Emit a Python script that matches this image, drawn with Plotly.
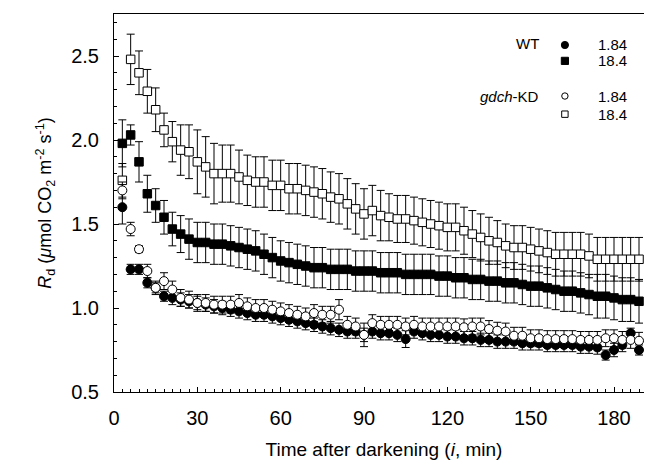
import plotly.graph_objects as go

# ---------------- data ----------------
time_min = [3, 6, 9, 12, 15, 18, 21, 24, 27, 30, 33, 36, 39, 42, 45, 48, 51, 54, 57, 60,
            63, 66, 69, 72, 75, 78, 81, 84, 87, 90, 93, 96, 99, 102, 105, 108, 111, 114, 117, 120,
            123, 126, 129, 132, 135, 138, 141, 144, 147, 150, 153, 156, 159, 162, 165, 168, 171, 174, 177, 180,
            183, 186, 189]

wt_184 = [1.60, 1.23, 1.23, 1.15, 1.12, 1.07, 1.06, 1.05, 1.04, 1.03, 1.02, 1.01, 1.00, 0.99, 0.98, 0.97, 0.96, 0.96, 0.95, 0.94,
          0.93, 0.92, 0.91, 0.90, 0.89, 0.88, 0.87, 0.86, 0.86, 0.84, 0.86, 0.85, 0.85, 0.84, 0.815, 0.86, 0.85, 0.84, 0.84, 0.83,
          0.83, 0.82, 0.82, 0.81, 0.81, 0.80, 0.80, 0.80, 0.79, 0.79, 0.79, 0.78, 0.78, 0.78, 0.78, 0.77, 0.77, 0.765, 0.72, 0.75,
          0.78, 0.85, 0.75]
wt_184_err = [0.10, 0.03, 0.03, 0.03, 0.03, 0.03, 0.04, 0.04, 0.04, 0.04, 0.04, 0.04, 0.04, 0.04, 0.04, 0.04, 0.04, 0.04, 0.04, 0.04,
              0.04, 0.04, 0.04, 0.04, 0.04, 0.04, 0.04, 0.04, 0.04, 0.04, 0.04, 0.04, 0.04, 0.04, 0.05, 0.04, 0.04, 0.04, 0.04, 0.04,
              0.04, 0.04, 0.04, 0.04, 0.04, 0.04, 0.04, 0.04, 0.04, 0.04, 0.04, 0.04, 0.04, 0.04, 0.04, 0.04, 0.04, 0.04, 0.03, 0.04,
              0.04, 0.03, 0.03]

wt_184_18 = [1.98, 2.03, 1.87, 1.68, 1.61, 1.54, 1.47, 1.44, 1.41, 1.39, 1.39, 1.38, 1.38, 1.37, 1.36, 1.35, 1.34, 1.32, 1.30, 1.28,
             1.27, 1.26, 1.25, 1.24, 1.24, 1.23, 1.23, 1.23, 1.22, 1.22, 1.22, 1.21, 1.21, 1.21, 1.20, 1.20, 1.20, 1.20, 1.19, 1.19,
             1.18, 1.18, 1.17, 1.17, 1.16, 1.16, 1.15, 1.15, 1.14, 1.13, 1.13, 1.12, 1.11, 1.10, 1.10, 1.09, 1.08, 1.07, 1.07, 1.06,
             1.05, 1.05, 1.04]
wt_18_err = [0.14, 0.06, 0.12, 0.11, 0.10, 0.10, 0.10, 0.11, 0.12, 0.12, 0.12, 0.12, 0.12, 0.12, 0.12, 0.12, 0.12, 0.12, 0.12, 0.12,
             0.12, 0.12, 0.12, 0.12, 0.12, 0.12, 0.12, 0.12, 0.12, 0.12, 0.12, 0.12, 0.12, 0.12, 0.12, 0.12, 0.12, 0.12, 0.12, 0.12,
             0.12, 0.12, 0.12, 0.12, 0.12, 0.12, 0.12, 0.12, 0.12, 0.12, 0.12, 0.12, 0.12, 0.12, 0.12, 0.12, 0.12, 0.13, 0.13, 0.13,
             0.13, 0.13, 0.13]

kd_184 = [1.70, 1.47, 1.35, 1.22, 1.12, 1.16, 1.11, 1.06, 1.05, 1.03, 1.03, 1.02, 1.02, 1.02, 1.03, 1.01, 1.00, 1.00, 0.99, 0.98,
          0.97, 0.96, 0.95, 0.97, 0.96, 0.96, 0.99, 0.90, 0.89, 0.84, 0.91, 0.90, 0.90, 0.90, 0.89, 0.90, 0.89, 0.89, 0.89, 0.89,
          0.89, 0.885, 0.89, 0.89, 0.875, 0.865, 0.86, 0.835, 0.835, 0.82, 0.82, 0.815, 0.815, 0.815, 0.815, 0.81, 0.81, 0.81, 0.82, 0.82,
          0.81, 0.81, 0.805]
kd_184_err = [0.05, 0.04, 0.02, 0.04, 0.04, 0.05, 0.05, 0.05, 0.05, 0.05, 0.05, 0.05, 0.05, 0.05, 0.05, 0.05, 0.05, 0.05, 0.05, 0.05,
              0.05, 0.05, 0.05, 0.05, 0.05, 0.05, 0.06, 0.05, 0.05, 0.07, 0.05, 0.05, 0.05, 0.05, 0.05, 0.05, 0.05, 0.05, 0.05, 0.05,
              0.05, 0.05, 0.05, 0.05, 0.05, 0.05, 0.05, 0.05, 0.05, 0.05, 0.05, 0.05, 0.05, 0.05, 0.05, 0.05, 0.05, 0.05, 0.05, 0.05,
              0.05, 0.05, 0.05]

kd_18 = [1.76, 2.48, 2.40, 2.29, 2.18, 2.06, 1.99, 1.94, 1.93, 1.87, 1.84, 1.80, 1.80, 1.80, 1.78, 1.76, 1.75, 1.75, 1.73, 1.73,
         1.71, 1.71, 1.70, 1.69, 1.68, 1.66, 1.65, 1.62, 1.59, 1.56, 1.58, 1.55, 1.54, 1.53, 1.53, 1.52, 1.51, 1.50, 1.49, 1.48,
         1.48, 1.46, 1.44, 1.42, 1.40, 1.39, 1.37, 1.36, 1.36, 1.35, 1.34, 1.33, 1.32, 1.32, 1.32, 1.32, 1.31, 1.29, 1.29, 1.29,
         1.29, 1.29, 1.29]
kd_18_err = [0.10, 0.15, 0.13, 0.13, 0.13, 0.10, 0.12, 0.15, 0.16, 0.19, 0.18, 0.18, 0.17, 0.17, 0.16, 0.15, 0.15, 0.15, 0.15, 0.15,
             0.15, 0.15, 0.15, 0.15, 0.15, 0.15, 0.15, 0.15, 0.15, 0.15, 0.15, 0.15, 0.14, 0.14, 0.14, 0.14, 0.14, 0.14, 0.14, 0.14,
             0.14, 0.14, 0.14, 0.14, 0.14, 0.13, 0.13, 0.13, 0.13, 0.13, 0.13, 0.13, 0.13, 0.13, 0.13, 0.13, 0.13, 0.13, 0.13, 0.13,
             0.13, 0.13, 0.13]

x_ticks = [0, 30, 60, 90, 120, 150, 180]
y_ticks = [0.5, 1.0, 1.5, 2.0, 2.5]
y_tick_text = ["0.5", "1.0", "1.5", "2.0", "2.5"]

legend_groups = ["WT", "<i>gdch</i>-KD"]
legend_levels = ["1.84", "18.4"]

# ---------------- figure ----------------
FONT = "Liberation Sans, Arial, sans-serif"

def err(arr):
    return dict(type="data", array=arr, visible=True, color="black", thickness=1, width=4)

fig = go.Figure()

series = [
    (wt_184_18, wt_18_err, "square", "black"),
    (kd_18, kd_18_err, "square", "white"),
    (wt_184, wt_184_err, "circle", "black"),
    (kd_184, kd_184_err, "circle", "white"),
]
for vals, e, sym, fill in series:
    fig.add_trace(go.Scatter(
        x=time_min, y=vals, mode="markers",
        marker=dict(symbol=sym, size=9 if sym == "circle" else 8.5, color=fill,
                    line=dict(color="black", width=1)),
        error_y=err(e), showlegend=False, cliponaxis=False,
    ))

# ---- legend drawn as text + shapes (top-right) ----
row_y = [0.918, 0.876, 0.783, 0.735]
sym_x = 0.835
label_x = 0.791
level_x = 0.892
LEG_SIZE = 15
fig.add_annotation(x=label_x, y=(row_y[0] + 0.003), xref="paper", yref="paper", text=legend_groups[0],
                   showarrow=False, xanchor="right", yanchor="middle",
                   font=dict(family=FONT, size=LEG_SIZE, color="black"))
fig.add_annotation(x=label_x, y=row_y[2], xref="paper", yref="paper", text=legend_groups[1],
                   showarrow=False, xanchor="right", yanchor="middle",
                   font=dict(family=FONT, size=LEG_SIZE, color="black"))
for i, ry in enumerate(row_y):
    fig.add_annotation(x=level_x, y=ry, xref="paper", yref="paper", text=legend_levels[i % 2],
                       showarrow=False, xanchor="left", yanchor="middle",
                       font=dict(family=FONT, size=LEG_SIZE, color="black"))
leg_syms = [("circle", "black"), ("rect", "black"), ("circle", "white"), ("rect", "white")]
for (stype, fill), ry in zip(leg_syms, row_y):
    half = 3.6 if fill == "black" else 3.2
    fig.add_shape(type=stype, xref="paper", yref="paper", xsizemode="pixel", ysizemode="pixel",
                  xanchor=sym_x, yanchor=ry, x0=-half, x1=half, y0=-half, y1=half,
                  fillcolor=fill, line=dict(color="black", width=1))

axis_common = dict(
    showline=True, linecolor="black", linewidth=1, mirror=True,
    showgrid=False, zeroline=False,
    ticks="inside", ticklen=5, tickwidth=1, tickcolor="black",
    tickfont=dict(family=FONT, size=20, color="black"),
)

fig.update_xaxes(
    range=[0, 194.4], tickmode="array", tickvals=x_ticks, ticktext=[str(v) for v in x_ticks],
    minor=dict(ticks="inside", ticklen=3, dtick=3, tick0=0, tickcolor="black", showgrid=False),
    title=dict(text="Time after darkening (<i>i</i>, min)", font=dict(family=FONT, size=19, color="black"), standoff=14),
    ticklabelstandoff=8,
    **axis_common,
)
fig.update_yaxes(
    range=[0.5, 2.75], tickmode="array", tickvals=y_ticks, ticktext=y_tick_text,
    minor=dict(ticks="inside", ticklen=3, dtick=0.1, tick0=0.5, tickcolor="black", showgrid=False),
    title=dict(text="<i>R</i><sub>d</sub> (<i>μ</i>mol CO<sub>2</sub> m<sup>-2</sup> s<sup>-1</sup>)",
               font=dict(family=FONT, size=18, color="black"), standoff=14),
    ticklabelstandoff=10,
    **axis_common,
)

fig.update_layout(
    width=652, height=465,
    margin=dict(l=106, r=6, t=6, b=81),
    paper_bgcolor="white", plot_bgcolor="white",
    font=dict(family=FONT, color="black"),
)

fig.write_html("out.html")
